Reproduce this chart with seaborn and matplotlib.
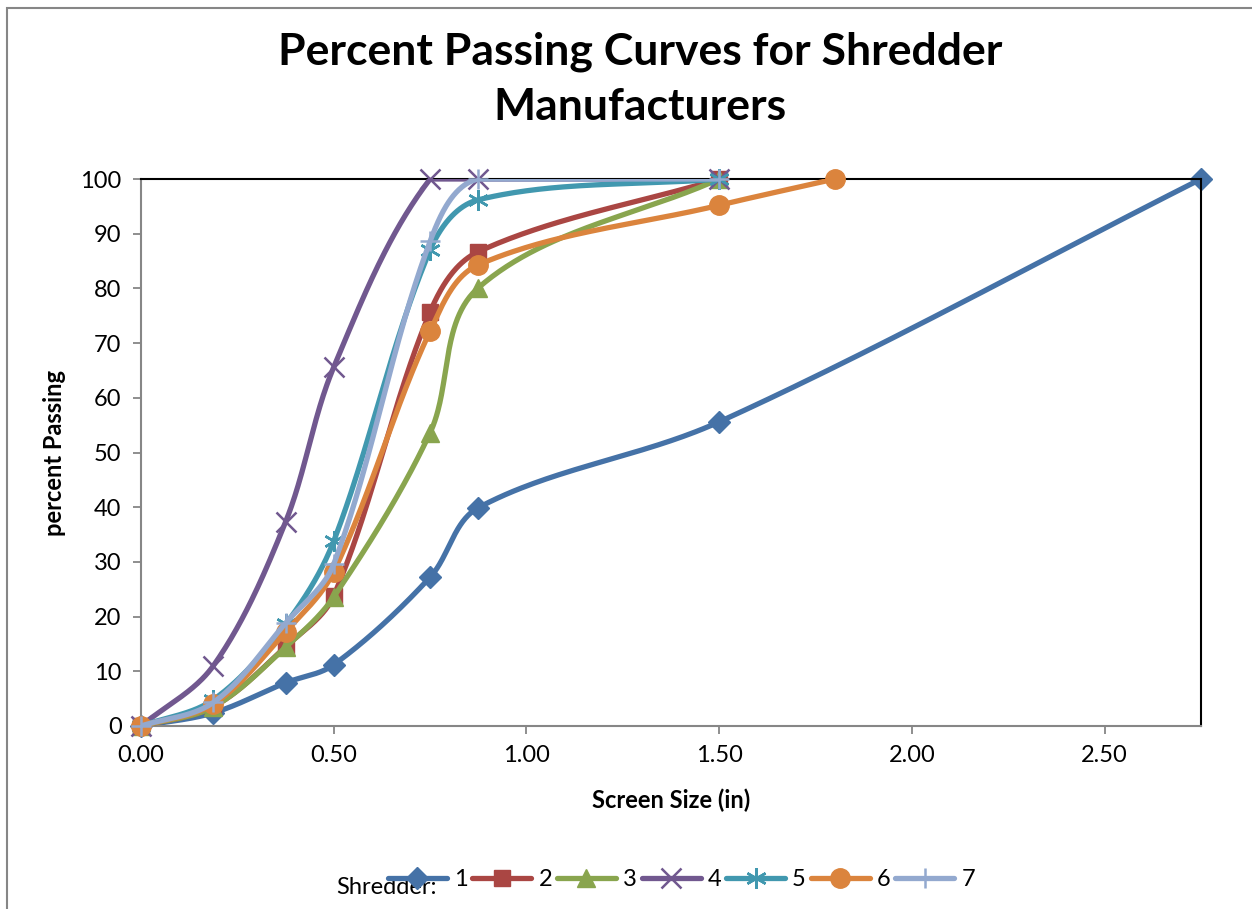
import numpy as np
import pandas as pd
import matplotlib
matplotlib.use("Agg")
import matplotlib.pyplot as plt
from matplotlib.lines import Line2D
from matplotlib.patches import Rectangle
import seaborn as sns

# ---- data ----
sizes = [0.0, 0.1875, 0.375, 0.5, 0.75, 0.875, 1.5]
x_s1 = sizes + [2.75]
x_s6 = sizes + [1.8]
y_s1 = [0, 2.4, 7.9, 11.2, 27.2, 39.9, 55.6, 100]
y_s2 = [0, 3.5, 14.5, 23.8, 75.7, 86.7, 100]
y_s3 = [0, 3.5, 14.4, 23.6, 53.6, 80.1, 100]
y_s4 = [0, 11.0, 37.3, 65.6, 100, 100, 100]
y_s5 = [0, 4.8, 18.6, 33.8, 87.0, 96.2, 100]
y_s6 = [0, 4.0, 17.2, 28.2, 72.2, 84.3, 95.2, 100]
y_s7 = [0, 4.3, 18.8, 29.6, 88.6, 100, 100]
names = ["1", "2", "3", "4", "5", "6", "7"]

series = [(x_s1, y_s1), (sizes, y_s2), (sizes, y_s3), (sizes, y_s4),
          (sizes, y_s5), (x_s6, y_s6), (sizes, y_s7)]
colors = ["#4572A7", "#AA4643", "#89A54E", "#71588F", "#4198AF", "#DB843D", "#93A9CF"]
markers = ["D", "s", "^", "x", (6, 2, 0), "o", "+"]
msizes = [11, 12, 13, 14, 15, 14, 15]
mews = [1, 1, 1, 1.8, 1.8, 1, 1.8]

XS, YS = 385.5, 5.47  # approximate pixel scale used for smoothing geometry


def smooth(x, y, n=60, k=1 / 3):
    P = np.column_stack([np.asarray(x, float) * XS, np.asarray(y, float) * YS])
    m = len(P)
    out = []
    for i in range(m - 1):
        p0 = P[max(i - 1, 0)]
        p1 = P[i]
        p2 = P[i + 1]
        p3 = P[min(i + 2, m - 1)]
        L = np.linalg.norm(p2 - p1)
        d1 = p2 - p0
        d2 = p3 - p1
        d1 = d1 / (np.linalg.norm(d1) or 1)
        d2 = d2 / (np.linalg.norm(d2) or 1)
        c1 = p1 + d1 * L * k
        c2 = p2 - d2 * L * k
        top = 100 * YS
        c1[1] = min(c1[1], top)
        c2[1] = min(c2[1], top)
        t = np.linspace(0, 1, n)[:, None]
        seg = ((1 - t) ** 3) * p1 + 3 * ((1 - t) ** 2) * t * c1 + 3 * (1 - t) * t ** 2 * c2 + t ** 3 * p2
        out.append(seg if i == 0 else seg[1:])
    s = np.vstack(out)
    return s[:, 0] / XS, s[:, 1] / YS


sns.set_theme(style="white")
plt.rcParams["font.family"] = ["Lato", "DejaVu Sans"]
plt.rcParams["text.color"] = "#000000"
plt.rcParams["axes.labelcolor"] = "#000000"

fig = plt.figure(figsize=(12.52, 9.09), dpi=100)
ax = fig.add_axes([141 / 1252, 1 - 726 / 909, (1201 - 141) / 1252, (726 - 179) / 909])

for i, ((xs, ys), c, mk, ms, mw) in enumerate(zip(series, colors, markers, msizes, mews)):
    sx, sy = smooth(xs, ys)
    df = pd.DataFrame({"x": sx, "y": sy})
    sns.lineplot(data=df, x="x", y="y", sort=False, color=c, linewidth=3.8,
                 ax=ax, zorder=2 + i, legend=False)
    ax.plot(xs, ys, linestyle="none", marker=mk, markersize=ms, color=c,
            markeredgecolor=c, markeredgewidth=mw, zorder=2 + i, clip_on=False)

ax.set_xlim(0, 2.75)
ax.set_ylim(0, 100)
ax.set_xticks([0, 0.5, 1.0, 1.5, 2.0, 2.5])
ax.set_xticklabels([f"{v:.2f}" for v in [0, 0.5, 1.0, 1.5, 2.0, 2.5]])
ax.set_yticks(range(0, 101, 10))
ax.tick_params(axis="both", labelsize=17, labelcolor="#000000", length=6, width=1.3,
               direction="out", pad=8, color="#868686")
ax.xaxis.set_ticks_position("bottom")
ax.yaxis.set_ticks_position("left")
for side in ["left", "bottom"]:
    ax.spines[side].set_color("#868686")
    ax.spines[side].set_linewidth(1.5)
for side in ["top", "right"]:
    ax.spines[side].set_color("#000000")
    ax.spines[side].set_linewidth(1.5)
    ax.spines[side].set_visible(True)
ax.set_xlabel("Screen Size (in)", fontsize=17, fontweight="bold", labelpad=16, color="#000000")
ax.set_ylabel("percent Passing", fontsize=17, fontweight="bold", labelpad=10, color="#000000")

fig.text(0.511, 1 - 79 / 909, "Percent Passing Curves for Shredder\nManufacturers",
         ha="center", va="center", fontsize=32, fontweight="bold", linespacing=1.45,
         color="#000000")

# outer chart frame
fig.patches.append(Rectangle((7 / 1252, -0.05), 1.2, 1 - 8 / 909 + 0.05,
                             transform=fig.transFigure, fill=False,
                             edgecolor="#868686", linewidth=1.5))

handles = [Line2D([0], [0], color=c, linewidth=3.8, marker=mk, markersize=ms,
                  markeredgecolor=c, markeredgewidth=mw)
           for c, mk, ms, mw in zip(colors, markers, msizes, mews)]
fig.legend(handles, names, loc="center left", bbox_to_anchor=(376 / 1252, 1 - 880 / 909),
           ncol=7, frameon=False, fontsize=17, handlelength=2.5, handletextpad=0.3,
           columnspacing=0.2, borderpad=0, labelcolor="#000000")
fig.text(336 / 1252, 1 - 888 / 909, "Shredder:", ha="left", va="center", fontsize=17,
         color="#000000")

fig.savefig("out.png", dpi=100)
